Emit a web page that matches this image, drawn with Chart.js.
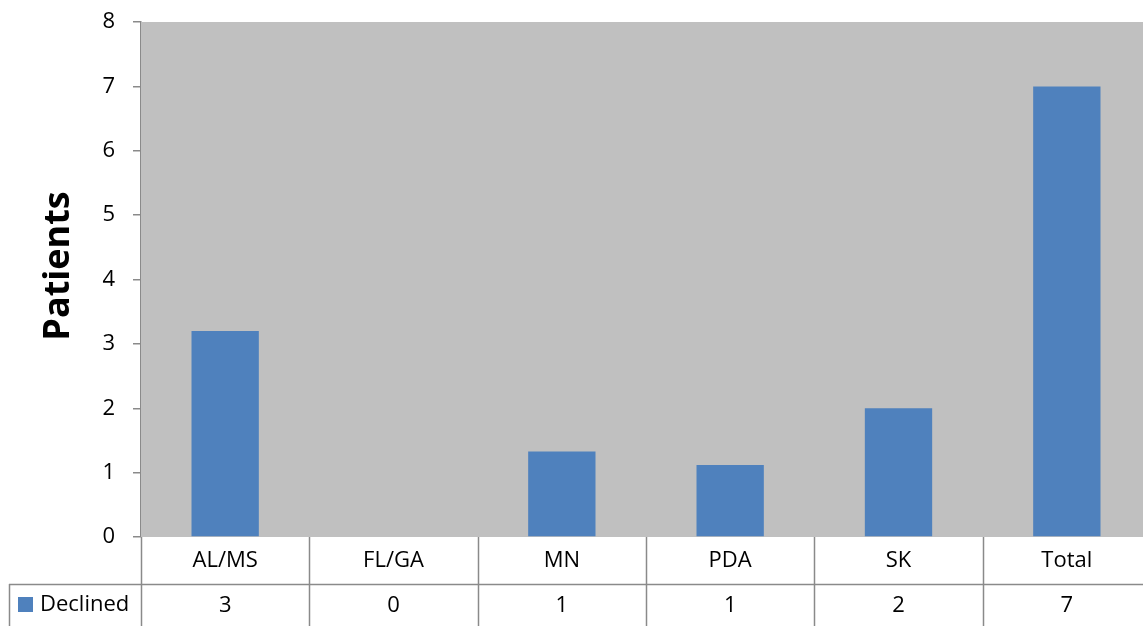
<!DOCTYPE html>
<html>
<head>
<meta charset="utf-8">
<script src="https://cdn.jsdelivr.net/npm/chart.js@4.4.0/dist/chart.umd.min.js"></script>
<style>
html,body{margin:0;padding:0;background:#fff;overflow:hidden;}
#wrap{width:1143px;height:626px;position:relative;overflow:hidden;}
canvas{display:block;}
</style>
</head>
<body>
<div id="wrap"><canvas id="c" width="1151" height="626"></canvas></div>
<script>
const categories = ["AL/MS", "FL/GA", "MN", "PDA", "SK", "Total"];
const barValues = [3.2, 0, 1.33, 1.12, 2, 7];
const tableValues = [3, 0, 1, 1, 2, 7];
const seriesName = "Declined";
const yTicks = [0, 1, 2, 3, 4, 5, 6, 7, 8];
const yTitle = "Patients";

const FONT = "'Open Sans', 'Noto Sans', sans-serif";
const BAR = "#4F81BD";
const LINE = "#8a8a8a";

const bgPlugin = {
  id: 'bg',
  beforeDatasetsDraw(chart) {
    const {ctx, chartArea: a} = chart;
    ctx.save();
    ctx.fillStyle = "#C0C0C0";
    ctx.fillRect(a.left, a.top, a.right - a.left, a.bottom - a.top);
    ctx.restore();
  }
};

const tablePlugin = {
  id: 'table',
  afterDraw(chart) {
    const {ctx, chartArea: a} = chart;
    const x = chart.scales.x;
    const H = chart.height;
    const row1Bottom = a.bottom + 47;
    const half = (x.getPixelForValue(1) - x.getPixelForValue(0)) / 2;
    ctx.save();
    ctx.strokeStyle = LINE;
    ctx.lineWidth = 1.5;
    ctx.beginPath();
    for (let i = 0; i < categories.length; i++) {
      const b = x.getPixelForValue(i) - half;
      ctx.moveTo(Math.round(b) + 0.5, a.bottom);
      ctx.lineTo(Math.round(b) + 0.5, H);
    }
    ctx.moveTo(9, row1Bottom + 0.5);
    ctx.lineTo(chart.width, row1Bottom + 0.5);
    ctx.moveTo(9.5, row1Bottom);
    ctx.lineTo(9.5, H);
    ctx.stroke();

    ctx.fillStyle = "#000";
    ctx.font = "22px " + FONT;
    ctx.textAlign = "center";
    ctx.textBaseline = "middle";
    categories.forEach((cat, i) => {
      const c = x.getPixelForValue(i);
      ctx.fillText(cat, c, a.bottom + 24);
      ctx.fillText(String(tableValues[i]), c, row1Bottom + 22);
    });
    ctx.fillStyle = BAR;
    ctx.fillRect(18, row1Bottom + 13, 15, 15);
    ctx.fillStyle = "#000";
    ctx.textAlign = "left";
    ctx.fillText(seriesName, 40, row1Bottom + 21);

    ctx.save();
    ctx.translate(59, 266);
    ctx.rotate(-Math.PI / 2);
    ctx.font = "bold 36px " + FONT;
    ctx.textAlign = "center";
    ctx.textBaseline = "middle";
    ctx.fillText(yTitle, 0, 0);
    ctx.restore();
    ctx.restore();
  }
};

new Chart(document.getElementById('c'), {
  type: 'bar',
  data: {
    labels: categories,
    datasets: [{
      label: seriesName,
      data: barValues,
      backgroundColor: BAR,
      borderWidth: 0,
      categoryPercentage: 1.0,
      barPercentage: 0.4
    }]
  },
  options: {
    responsive: false,
    animation: false,
    devicePixelRatio: 1,
    layout: { padding: { top: 22, right: 0, bottom: 89, left: 0 } },
    plugins: { legend: { display: false }, tooltip: { enabled: false } },
    scales: {
      x: {
        display: false,
        offset: true
      },
      y: {
        min: 0, max: 8,
        afterFit(s) { s.width = 141; s.paddingTop = 0; s.paddingBottom = 0; },
        afterBuildTicks(s) { s.ticks = yTicks.map(v => ({value: v})); },
        border: { display: true, color: LINE, width: 1.5 },
        grid: { drawOnChartArea: false, drawTicks: true, tickLength: 8, color: LINE, lineWidth: 1.5 },
        ticks: { color: "#000", font: { size: 22, family: FONT }, padding: 18 },
        title: { display: false }
      }
    }
  },
  plugins: [bgPlugin, tablePlugin]
});
</script>
</body>
</html>
